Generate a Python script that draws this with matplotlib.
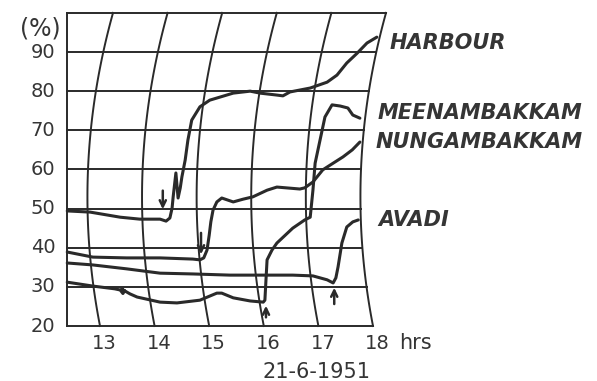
import numpy as np
import matplotlib
matplotlib.use("Agg")
import matplotlib.pyplot as plt

# hygrograph traces, 21-6-1951 (time in hours, relative humidity in %)
harbour_t = [12.40, 12.82, 13.37, 13.73, 14.10, 14.21, 14.28, 14.32, 14.34, 14.39, 14.43, 14.47,
             14.50, 14.56, 14.61, 14.68, 14.83, 15.01, 15.44, 15.75, 15.93, 16.24, 16.35, 16.48,
             16.85, 17.16, 17.34, 17.52, 17.71, 17.89, 18.07]
harbour_h = [49.4, 49.1, 47.8, 47.3, 47.3, 46.8, 47.6, 50.1, 53.0, 59.1, 52.7, 55.3,
             58.1, 62.4, 67.5, 72.6, 76.0, 77.7, 79.5, 80.0, 79.5, 79.0, 78.8, 79.8,
             80.8, 82.3, 84.1, 87.2, 89.7, 92.3, 93.8]

nungam_t = [12.40, 12.87, 13.49, 14.10, 14.70, 14.83, 14.90, 14.96, 15.00, 15.03, 15.07, 15.14, 15.23,
            15.44, 15.62, 15.80, 16.06, 16.24, 16.66, 16.75, 16.90, 17.08, 17.27, 17.45, 17.62, 17.76]
nungam_h = [38.9, 37.6, 37.4, 37.4, 37.1, 36.9, 37.4, 39.4, 43.2, 46.6, 49.6, 51.7, 52.7,
            51.7, 52.4, 53.0, 54.7, 55.5, 55.0, 55.3, 56.8, 59.9, 61.6, 63.2, 65.0, 67.0]

meenam_t = [12.40, 12.87, 13.27, 13.37, 13.42, 13.45, 13.40, 13.55, 13.68, 14.10, 14.41, 14.83, 15.14,
            15.23, 15.44, 15.75, 15.99, 16.02, 16.04, 16.06, 16.15, 16.24, 16.53, 16.75, 16.85,
            16.90, 16.94, 17.03, 17.12, 17.25, 17.40, 17.54, 17.63, 17.76]
meenam_h = [31.2, 30.2, 29.5, 29.2, 28.3, 29.0, 29.4, 28.2, 27.4, 26.1, 25.9, 26.6, 28.4,
            28.4, 27.2, 26.4, 26.1, 26.6, 31.8, 36.9, 39.4, 41.2, 45.0, 47.1, 47.8,
            54.7, 61.6, 67.5, 73.4, 76.5, 76.2, 75.7, 73.9, 73.1]

avadi_t = [12.40, 12.87, 13.49, 14.10, 14.70, 15.38, 16.06, 16.53, 16.90, 17.16, 17.27, 17.32,
           17.36, 17.43, 17.52, 17.63, 17.73]
avadi_h = [36.1, 35.6, 34.6, 33.5, 33.3, 33.0, 33.0, 33.0, 32.8, 31.8, 31.0, 32.3,
           35.1, 41.2, 45.3, 46.6, 47.1]

# arrows marking the onset (time, tail %, head %)
arrow_t = [14.15, 14.85, 16.04, 17.29]
arrow_from = [55.3, 44.5, 21.5, 24.9]
arrow_to = [49.1, 37.6, 25.9, 30.5]

hours = [13, 14, 15, 16, 17, 18]
rh_ticks = [20, 30, 40, 50, 60, 70, 80, 90]
names = ["HARBOUR", "MEENAMBAKKAM", "NUNGAMBAKKAM", "AVADI"]
name_t = [18.31, 18.09, 18.04, 18.09]
name_h = [92.3, 74.4, 67.0, 47.1]

ink = "#2a2a2a"
txt = "#353535"

fig = plt.figure(figsize=(5.97, 3.81), dpi=100)
ax = fig.add_axes([0, 0, 1, 1])
ax.set_xlim(11.1685, 22.1026)
ax.set_ylim(5.95, 103.29)
ax.axis("off")

# curved time lines of the chart paper (shift in hours vs humidity)
bend = np.polyfit([20, 60, 100], [0, -12 / 54.6, 13 / 54.6], 2)
hh = np.linspace(20, 100, 80)
for T in hours:
    ax.plot(T + np.polyval(bend, hh), hh, color=ink, lw=1.4)

t0 = 12.40
ax.plot([t0, t0], [20, 100], color=ink, lw=1.4)
for h in rh_ticks + [100]:
    ax.plot([t0, 18 + np.polyval(bend, h)], [h, h], color=ink, lw=1.4)

for t, h in [(harbour_t, harbour_h), (nungam_t, nungam_h), (meenam_t, meenam_h), (avadi_t, avadi_h)]:
    ax.plot(t, h, color=ink, lw=2.2, solid_capstyle="round", solid_joinstyle="round")

for t, a, b in zip(arrow_t, arrow_from, arrow_to):
    ax.annotate("", xy=(t, b), xytext=(t, a),
                arrowprops=dict(arrowstyle="->,head_length=0.45,head_width=0.22", color=ink, lw=1.8))

# axis labels
for h in rh_ticks:
    ax.text(12.18, h, str(h), ha="right", va="center", fontsize=14, color=txt)
ax.text(12.28, 96.1, "(%)", ha="right", va="center", fontsize=17, color=txt)
for T in hours:
    ax.text(T + 0.08, 15.6, str(T), ha="center", va="center", fontsize=14, color=txt)
ax.text(18.77, 15.6, "hrs", ha="center", va="center", fontsize=15, color=txt)
ax.text(16.96, 8.25, "21-6-1951", ha="center", va="center", fontsize=15, color=txt)

for n, t, h in zip(names, name_t, name_h):
    ax.text(t, h, n, ha="left", va="center", fontsize=15, style="italic",
            fontweight="bold", color=txt)

fig.savefig("out.png", dpi=100)
